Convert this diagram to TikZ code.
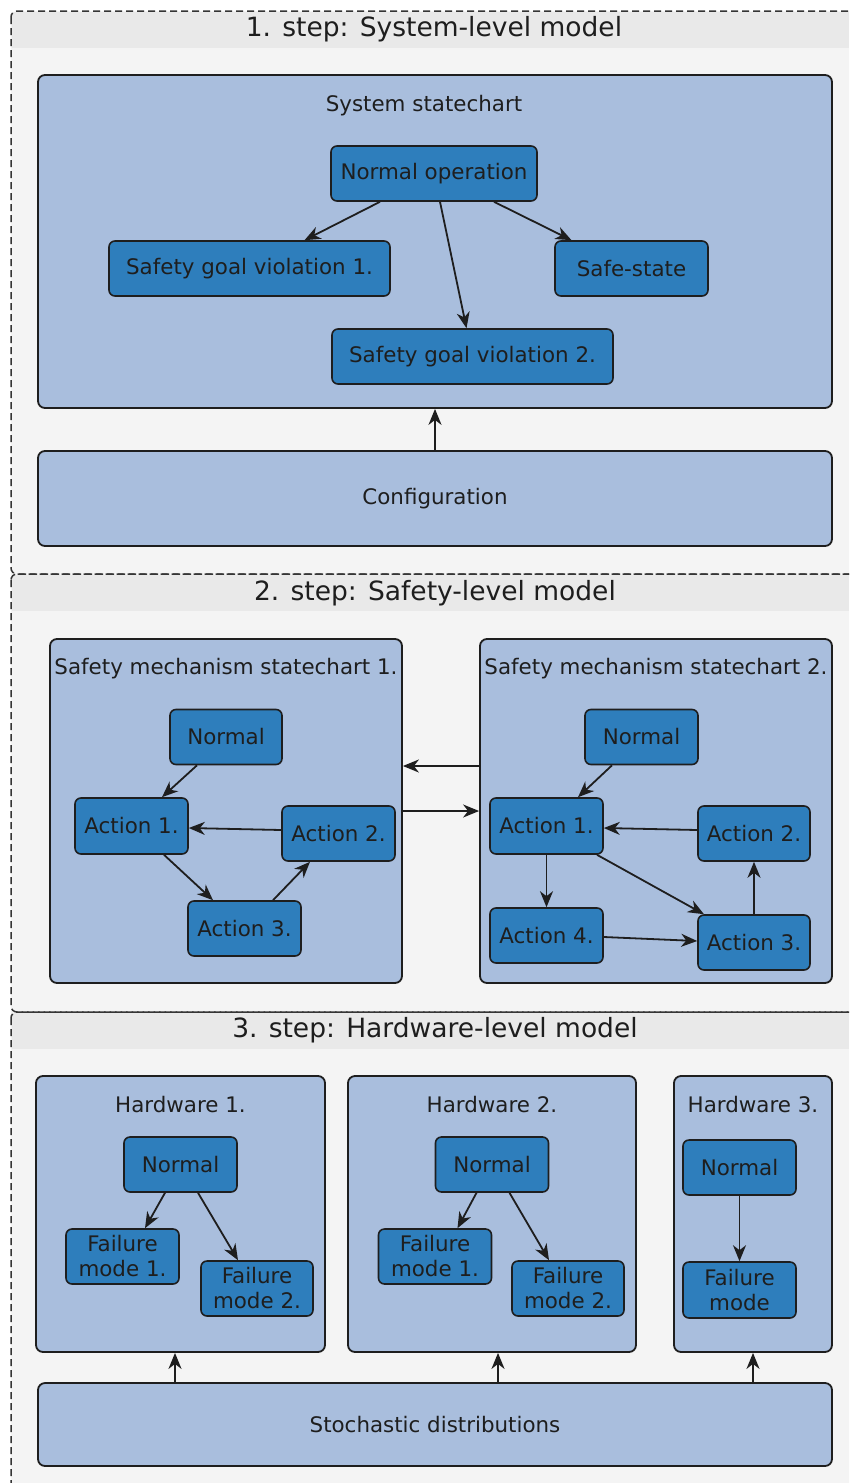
\documentclass[tikz,border=0pt]{standalone}
\usepackage{fontspec}
\setmainfont{DejaVu Sans}
\usetikzlibrary{arrows.meta}

\definecolor{pagebg}{HTML}{F4F4F4}
\definecolor{bandbg}{HTML}{E9E9E9}
\definecolor{boxbg}{HTML}{A9BEDD}
\definecolor{statebg}{HTML}{2E7EBC}
\definecolor{ink}{HTML}{1E1E1E}

\tikzset{
  frameline/.style={draw=ink!90, line width=1.5pt, dash pattern=on 7pt off 4pt},
  container/.style={draw=ink, fill=boxbg, rounded corners=7pt, line width=1.8pt, inner sep=0pt},
  statebox/.style={draw=ink, fill=statebg, rounded corners=6pt, line width=1.6pt,
    inner sep=0pt, align=center, text=ink, font=\fontsize{21.4}{25}\selectfont},
  boxlabel/.style={text=ink, font=\fontsize{21.4}{25}\selectfont, inner sep=0pt},
  steptitle/.style={text=ink, font=\fontsize{26.5}{30}\selectfont, inner sep=0pt},
  arr/.style={-{Stealth[length=16pt,width=13pt,inset=5pt]}, line width=1.8pt, draw=ink}
}

\begin{document}
\begin{tikzpicture}[x=1pt,y=-1pt]
\useasboundingbox (0,0) rectangle (849,1483);
\fill[white] (0,0) rectangle (849,1483);

\begin{scope}
\clip (0,0) rectangle (849,1483);
% step panels: background, title band, dashed outline
\fill[pagebg, rounded corners=6pt] (11,11) rectangle (880,1520);
\fill[bandbg] (12,12) rectangle (849,48);
\fill[bandbg] (12,575) rectangle (849,611);
\fill[bandbg] (12,1013) rectangle (849,1049);
\draw[frameline, rounded corners=6pt] (11,11) rectangle (880,574);
\draw[frameline, rounded corners=6pt] (11,574) rectangle (880,1012);
\draw[frameline, rounded corners=6pt] (11,1012) rectangle (880,1520);
\end{scope}

\node[steptitle] (t1) at (434,29) {1. step: System-level model};
\node[steptitle] (t2) at (435,593) {2. step: Safety-level model};
\node[steptitle] (t3) at (435,1030) {3. step: Hardware-level model};

% ---- step 1
\node[container, minimum width=794, minimum height=333] (sys) at (435,241.5) {};
\node[boxlabel] (syslbl) at (424,106) {System statechart};
\node[statebox, minimum width=206, minimum height=55] (no) at (434,173.5) {Normal operation};
\node[statebox, minimum width=281, minimum height=55] (sg1) at (249.5,268.5) {Safety goal violation 1.};
\node[statebox, minimum width=153, minimum height=55] (ss) at (631.5,268.5) {Safe-state};
\node[statebox, minimum width=281, minimum height=55] (sg2) at (472.5,356.5) {Safety goal violation 2.};
\draw[arr] ([xshift=-54pt]no.south) -- ([xshift=55pt]sg1.north);
\draw[arr] ([xshift=6pt]no.south) -- ([xshift=-6pt]sg2.north);
\draw[arr] ([xshift=60pt]no.south) -- ([xshift=-60pt]ss.north);

\node[container, minimum width=794, minimum height=95] (conf) at (435,498.5) {};
\node[boxlabel] (conflbl) at (435,498.5) {Configuration};
\draw[arr] (conf.north) -- (sys.south);

% ---- step 2
\node[container, minimum width=352, minimum height=344] (s1) at (226,811) {};
\node[boxlabel] (s1lbl) at (226,669) {Safety mechanism statechart 1.};
\node[container, minimum width=352, minimum height=344] (s2) at (656,811) {};
\node[boxlabel] (s2lbl) at (656,669) {Safety mechanism statechart 2.};
\draw[arr] ([yshift=45pt]s2.west) -- ([yshift=45pt]s1.east);
\draw[arr] (s1.east) -- (s2.west);

\node[statebox, minimum width=112, minimum height=55] (n1) at (226,737) {Normal};
\node[statebox, minimum width=113, minimum height=56] (a11) at (131.5,826) {Action 1.};
\node[statebox, minimum width=113, minimum height=55] (a12) at (338.5,833.5) {Action 2.};
\node[statebox, minimum width=113, minimum height=55] (a13) at (244.5,928.5) {Action 3.};
\draw[arr] ([xshift=-29pt]n1.south) -- ([xshift=30.5pt]a11.north);
\draw[arr] ([yshift=3.5pt]a12.west) -- ([yshift=-2pt]a11.east);
\draw[arr] ([xshift=32.5pt]a11.south) -- ([xshift=-31.5pt]a13.north);
\draw[arr] ([xshift=28.5pt]a13.north) -- ([xshift=-28.5pt]a12.south);

\node[statebox, minimum width=113, minimum height=55] (n2) at (641.5,737) {Normal};
\node[statebox, minimum width=113, minimum height=56] (a21) at (546.5,826) {Action 1.};
\node[statebox, minimum width=112, minimum height=55] (a22) at (754,833.5) {Action 2.};
\node[statebox, minimum width=112, minimum height=55] (a23) at (754,942.5) {Action 3.};
\node[statebox, minimum width=113, minimum height=55] (a24) at (546.5,935.5) {Action 4.};
\draw[arr] ([xshift=-29.5pt]n2.south) -- ([xshift=31.5pt]a21.north);
\draw[arr] ([yshift=3.5pt]a22.west) -- ([yshift=-2pt]a21.east);
\draw[arr] (a21.south) -- (a24.north);
\draw[arr] ([xshift=50.5pt]a21.south) -- ([xshift=-50pt]a23.north);
\draw[arr] ([yshift=-1.5pt]a24.east) -- ([yshift=1.5pt]a23.west);
\draw[arr] (a23.north) -- (a22.south);

% ---- step 3
\node[container, minimum width=289, minimum height=276] (h1) at (180.5,1214) {};
\node[boxlabel] (h1lbl) at (180.5,1105) {Hardware 1.};
\node[statebox, minimum width=113, minimum height=55] (h1n) at (180.5,1164.5) {Normal};
\node[statebox, minimum width=113, minimum height=55] (h1f1) at (122.5,1256.5) {Failure\\mode 1.};
\node[statebox, minimum width=112, minimum height=55] (h1f2) at (257,1288.5) {Failure\\mode 2.};
\draw[arr] ([xshift=-15.5pt]h1n.south) -- ([xshift=22.5pt]h1f1.north);
\draw[arr] ([xshift=17.5pt]h1n.south) -- ([xshift=-19pt]h1f2.north);

\node[container, minimum width=288, minimum height=276] (h2) at (492,1214) {};
\node[boxlabel] (h2lbl) at (492,1105) {Hardware 2.};
\node[statebox, minimum width=113, minimum height=55] (h2n) at (492,1164.5) {Normal};
\node[statebox, minimum width=113, minimum height=55] (h2f1) at (435,1256.5) {Failure\\mode 1.};
\node[statebox, minimum width=112, minimum height=55] (h2f2) at (568,1288.5) {Failure\\mode 2.};
\draw[arr] ([xshift=-15.5pt]h2n.south) -- ([xshift=22.5pt]h2f1.north);
\draw[arr] ([xshift=17.5pt]h2n.south) -- ([xshift=-19pt]h2f2.north);

\node[container, minimum width=158, minimum height=276] (h3) at (753,1214) {};
\node[boxlabel] (h3lbl) at (753,1105) {Hardware 3.};
\node[statebox, minimum width=113, minimum height=55] (h3n) at (739.5,1167.5) {Normal};
\node[statebox, minimum width=113, minimum height=56] (h3f) at (739.5,1290) {Failure\\mode};
\draw[arr] (h3n.south) -- (h3f.north);

\node[container, minimum width=794, minimum height=83] (st) at (435,1424.5) {};
\node[boxlabel] (stlbl) at (435,1424.5) {Stochastic distributions};
\draw[arr] ([xshift=-260pt]st.north) -- ([xshift=-5.5pt]h1.south);
\draw[arr] ([xshift=63pt]st.north) -- ([xshift=6pt]h2.south);
\draw[arr] ([xshift=318pt]st.north) -- (h3.south);
\end{tikzpicture}
\end{document}
